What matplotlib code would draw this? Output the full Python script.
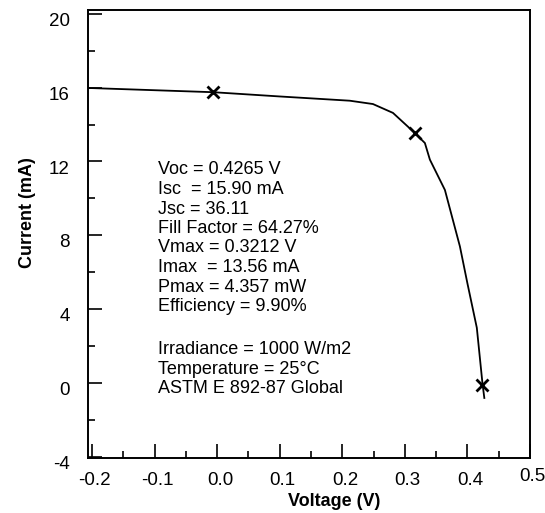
import numpy as np
import matplotlib
matplotlib.use("Agg")
import matplotlib.pyplot as plt
from matplotlib.ticker import MultipleLocator
from matplotlib.transforms import ScaledTranslation

plt.rcParams['font.family'] = ['Liberation Sans', 'DejaVu Sans']

# I-V curve
voltage = [-0.206, -0.006, 0.100, 0.212, 0.249, 0.281, 0.316, 0.332, 0.340,
           0.364, 0.388, 0.400, 0.415, 0.424, 0.427]
current = [15.98, 15.75, 15.52, 15.29, 15.11, 14.63, 13.54, 13.00, 12.10,
           10.46, 7.40, 5.40, 3.00, 0.00, -0.80]

# marked points (near Isc, max power point, Voc)
mark_v = [-0.006, 0.316, 0.424]
mark_i = [15.75, 13.54, -0.10]

xticks = [-0.2, -0.1, 0.0, 0.1, 0.2, 0.3, 0.4, 0.5]
yticks = [-4, 0, 4, 8, 12, 16, 20]

results = ["Voc = 0.4265 V", "Isc  = 15.90 mA", "Jsc = 36.11",
           "Fill Factor = 64.27%", "Vmax = 0.3212 V", "Imax  = 13.56 mA",
           "Pmax = 4.357 mW", "Efficiency = 9.90%"]
conditions = ["Irradiance = 1000 W/m2", "Temperature = 25\u00b0C",
              "ASTM E 892-87 Global"]

W, H = 545, 513
fig = plt.figure(figsize=(W / 100, H / 100), dpi=100)
ax = fig.add_axes([88 / W, 1 - 458 / H, (530 - 88) / W, (458 - 10) / H])

ax.plot(voltage, current, color='black', linewidth=1.3)
ax.plot(mark_v, mark_i, 'x', color='black', markersize=8, markeredgewidth=2)

ax.set_xlim(-0.2064, 0.5)
ax.set_ylim(-4.05, 20.2)
ax.set_xticks(xticks)
ax.set_xticklabels(['%.1f' % v for v in xticks])
ax.set_yticks(yticks)
ax.set_yticklabels(['%d' % v for v in yticks])
ax.xaxis.set_minor_locator(MultipleLocator(0.05))
ax.yaxis.set_minor_locator(MultipleLocator(2))

ax.tick_params(which='both', direction='in', top=False, right=False,
               width=1.2, labelsize=13.5)
ax.tick_params(which='major', length=10)
ax.tick_params(which='minor', length=5)
ax.tick_params(axis='x', pad=10)
ax.tick_params(axis='y', pad=13)
for s in ax.spines.values():
    s.set_linewidth(1.4)

# labels sit a little off their ticks in the original
for lab in ax.get_yticklabels():
    lab.set_transform(lab.get_transform() +
                      ScaledTranslation(0, -4 / 72, fig.dpi_scale_trans))
for k, lab in enumerate(ax.get_xticklabels()):
    dy = 3 if k == len(xticks) - 1 else 0
    lab.set_transform(lab.get_transform() +
                      ScaledTranslation(2 / 72, dy / 72, fig.dpi_scale_trans))

# text block
for k, line in enumerate(results):
    fig.text(158 / W, 1 - (170 + 19.5 * k) / H, line, fontsize=13,
             va='center', ha='left')
for k, line in enumerate(conditions):
    fig.text(158 / W, 1 - (350 + 19.3 * k) / H, line, fontsize=13,
             va='center', ha='left')

fig.text(334 / W, 1 - 502 / H, "Voltage (V)", fontsize=13,
         fontweight='bold', ha='center', va='center')
fig.text(28 / W, 1 - 213 / H, "Current (mA)", fontsize=13,
         fontweight='bold', ha='center', va='center', rotation=90)

fig.savefig("out.png", dpi=100)
